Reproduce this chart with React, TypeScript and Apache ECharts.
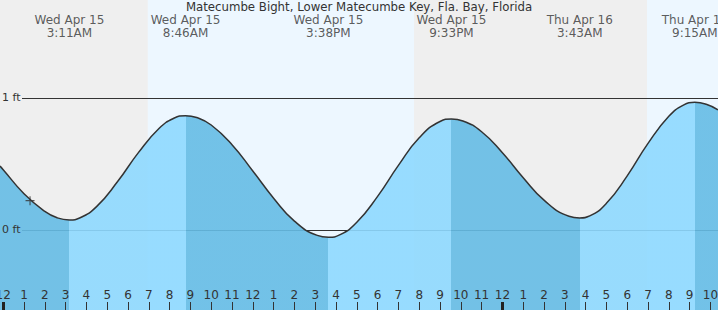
import React, { useEffect, useRef } from 'react';
import * as echarts from 'echarts';

const chartTitle = 'Matecumbe Bight, Lower Matecumbe Key, Fla. Bay, Florida';

// hours since Wed Apr 15 00:00, tide level in ft
const tideTimes = [-0.154, 0, 1, 2, 2.6, 3.183, 3.7, 4.5, 5.5, 6.5, 7.5, 8.2, 8.767, 9.3, 10, 11, 12, 13, 14, 15.1, 15.633, 16.2, 17, 18, 19, 20, 21, 21.55, 22.1, 23, 24, 25, 26, 27.2, 27.717, 28.2, 29, 30, 31, 32, 32.7, 33.25, 33.8, 34.365];
const tideLevels = [0.484, 0.457, 0.275, 0.141, 0.092, 0.076, 0.093, 0.179, 0.367, 0.586, 0.77, 0.846, 0.866, 0.852, 0.795, 0.646, 0.447, 0.241, 0.067, -0.041, -0.055, -0.035, 0.058, 0.255, 0.489, 0.698, 0.822, 0.841, 0.826, 0.744, 0.585, 0.396, 0.226, 0.104, 0.091, 0.107, 0.202, 0.41, 0.656, 0.861, 0.946, 0.967, 0.952, 0.91];

const eventTimes = [3.183, 8.767, 15.633, 21.55, 27.717, 33.25];
const eventDays = ['Wed Apr 15', 'Wed Apr 15', 'Wed Apr 15', 'Wed Apr 15', 'Thu Apr 16', 'Thu Apr 16'];
const eventClock = ['3:11AM', '8:46AM', '3:38PM', '9:33PM', '3:43AM', '9:15AM'];

const dayRanges = [[6.95, 19.75], [30.95, 34.365]];
const hourTicks = Array.from({ length: 35 }, (_, i) => i);
const midnightTicks = [0, 24];
const footLevels = [0, 1];
const nowTime = 1.29;
const nowLevel = 0.222;

const X_MIN = -0.154;
const X_MAX = 34.365;
const Y_MIN = -0.606;
const Y_MAX = 1.742;
const LABEL_LEVEL = 1.538;

const FONT = 'DejaVu Sans';
const TEXT = '#333';
const DARK_FILL = '#65bce5';
const LIGHT_FILL = '#8ed9ff';

export default function App() {
  const ref = useRef<HTMLDivElement>(null);
  useEffect(() => {
    if (!ref.current) return;
    const chart = echarts.init(ref.current, undefined, { renderer: 'svg' });
    const bounds = [-Infinity, ...eventTimes, Infinity];
    const pieces = [] as any[];
    for (let i = 0; i < bounds.length - 1; i++) {
      const p: any = { color: i % 2 === 0 ? DARK_FILL : LIGHT_FILL };
      if (isFinite(bounds[i])) p.gte = bounds[i];
      if (isFinite(bounds[i + 1])) p.lt = bounds[i + 1];
      pieces.push(p);
    }
    const tideData = tideTimes.map((t, i) => [t, tideLevels[i]]);
    chart.setOption({
      animation: false,
      backgroundColor: '#efefef',
      title: {
        text: chartTitle,
        left: 'center',
        top: 1,
        padding: 0,
        z: 20,
        textStyle: { fontSize: 11.75, fontWeight: 'normal', color: TEXT, fontFamily: FONT },
      },
      grid: { left: 0, right: 0, top: 0, bottom: 0, containLabel: false, outerBoundsMode: 'none' },
      xAxis: [
        {
          type: 'value',
          min: X_MIN,
          max: X_MAX,
          position: 'bottom',
          z: 20,
          axisLine: { show: false, onZero: false },
          splitLine: { show: false },
          axisTick: { show: true, inside: true, length: 8, customValues: hourTicks, lineStyle: { color: TEXT, width: 1 } },
          axisLabel: {
            show: true,
            inside: true,
            margin: 9,
            hideOverlap: false,
            customValues: hourTicks,
            fontSize: 12,
            fontFamily: FONT,
            color: TEXT,
            formatter: (v: number) => String(Math.round(v) % 12 === 0 ? 12 : Math.round(v) % 12),
          },
        },
        {
          type: 'value',
          min: X_MIN,
          max: X_MAX,
          position: 'bottom',
          z: 21,
          axisLine: { show: false, onZero: false },
          splitLine: { show: false },
          axisLabel: { show: false },
          axisTick: { show: true, inside: true, length: 8, customValues: midnightTicks, lineStyle: { color: '#222', width: 3 } },
        },
      ],
      yAxis: {
        type: 'value',
        min: Y_MIN,
        max: Y_MAX,
        z: 20,
        axisLine: { show: false, onZero: false },
        axisTick: { show: false },
        splitLine: { show: false },
        axisLabel: {
          show: true,
          inside: true,
          margin: 2,
          customValues: footLevels,
          fontSize: 11,
          fontFamily: FONT,
          color: TEXT,
          formatter: (v: number) => `${v} ft`,
        },
      },
      visualMap: {
        type: 'piecewise',
        show: false,
        dimension: 0,
        seriesIndex: 2,
        pieces,
      },
      series: [
        {
          type: 'line',
          z: 1,
          silent: true,
          symbol: 'none',
          data: [],
          markArea: {
            silent: true,
            z: 1,
            itemStyle: { color: '#edf7ff' },
            data: dayRanges.map(([a, b]) => [{ xAxis: a }, { xAxis: b }]),
          },
        },
        {
          type: 'line',
          z: 2,
          silent: true,
          symbol: 'none',
          data: [],
          markLine: {
            silent: true,
            z: 2,
            symbol: 'none',
            label: { show: false },
            lineStyle: { color: TEXT, width: 1, type: 'solid' },
            data: footLevels.map((v) => [{ x: 22, yAxis: v }, { x: 718, yAxis: v }]),
          },
        },
        {
          type: 'line',
          z: 10,
          silent: true,
          symbol: 'none',
          smooth: 0.5,
          data: tideData,
          lineStyle: { width: 0 },
          areaStyle: { opacity: 0.9, origin: 'start' },
        },
        {
          type: 'line',
          z: 11,
          silent: true,
          symbol: 'none',
          smooth: 0.5,
          data: tideData,
          lineStyle: { color: TEXT, width: 1.5 },
        },
        {
          type: 'scatter',
          z: 12,
          silent: true,
          symbolSize: 0,
          data: eventTimes.map((t, i) => ({ value: [t, LABEL_LEVEL], name: `${eventDays[i]}\n${eventClock[i]}` })),
          label: {
            show: true,
            position: 'inside',
            formatter: '{b}',
            fontSize: 12,
            lineHeight: 13,
            fontFamily: FONT,
            color: TEXT,
          },
        },
        {
          type: 'scatter',
          z: 13,
          silent: true,
          symbol: 'path://M0,3.5H3.5V0H4.5V3.5H8V4.5H4.5V8H3.5V4.5H0Z',
          symbolSize: 9,
          itemStyle: { color: TEXT },
          data: [[nowTime, nowLevel]],
        },
      ],
    });
    return () => chart.dispose();
  }, []);
  return <div ref={ref} style={{ position: 'fixed', left: 0, top: 0, width: 718, height: 310 }} />;
}
